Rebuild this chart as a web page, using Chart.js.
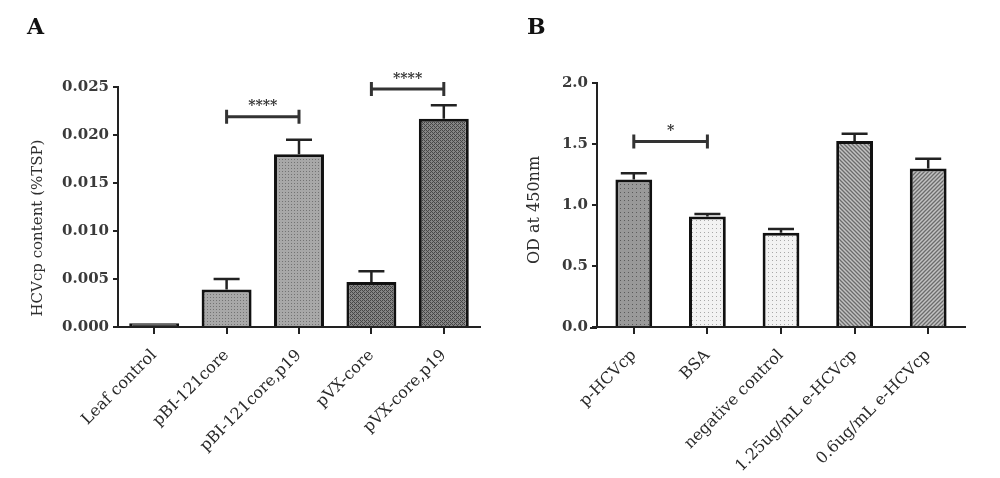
<!DOCTYPE html>
<html>
<head>
<meta charset="utf-8">
<script src="https://cdn.jsdelivr.net/npm/chart.js@4.4.0/dist/chart.umd.min.js"></script>
<style>
html, body { margin: 0; padding: 0; background: #fff; }
#wrap { position: relative; width: 1000px; height: 478px; }
.panel { position: absolute; top: 0; width: 500px; height: 478px; }
</style>
</head>
<body>
<div id="wrap">
  <div class="panel" style="left:0"><canvas id="chartA" width="500" height="478"></canvas></div>
  <div class="panel" style="left:500px"><canvas id="chartB" width="500" height="478"></canvas></div>
</div>
<script>
// panel A
const labelsA = ['Leaf control', 'pBI-121core', 'pBI-121core,p19', 'pVX-core', 'pVX-core,p19'];
const valuesA = [0.0004, 0.0039, 0.0180, 0.0047, 0.0217];
const errorsA = [0, 0.0011, 0.0015, 0.0011, 0.0014];
const ticksA = [0, 0.005, 0.010, 0.015, 0.020, 0.025];
const sigA = [[1, 2, 0.0219, '****'], [3, 4, 0.0248, '****']];

// panel B
const labelsB = ['p-HCVcp', 'BSA', 'negative control', '1.25ug/mL e-HCVcp', '0.6ug/mL e-HCVcp'];
const valuesB = [1.21, 0.906, 0.773, 1.524, 1.30];
const errorsB = [0.05, 0.02, 0.03, 0.06, 0.08];
const ticksB = [0, 0.5, 1.0, 1.5, 2.0];
const sigB = [[0, 1, 1.52, '*']];

const SERIF = '"DejaVu Serif", "Liberation Serif", serif';
const INK = '#222';

function pattern(bg, draw, size) {
    const c = document.createElement('canvas');
    c.width = size; c.height = size;
    const g = c.getContext('2d');
    g.fillStyle = bg;
    g.fillRect(0, 0, size, size);
    draw(g);
    return c.getContext('2d').createPattern(c, 'repeat');
}
const dots = (col, s) => g => { g.fillStyle = col; g.fillRect(0, 0, s, s); };
const hatch = (col, dir) => g => {
    g.strokeStyle = col; g.lineWidth = 1.3;
    g.beginPath();
    if (dir > 0) { g.moveTo(-1, 5); g.lineTo(5, -1); g.moveTo(-1, 1); g.lineTo(1, -1); g.moveTo(3, 5); g.lineTo(5, 3); }
    else { g.moveTo(-1, -1); g.lineTo(5, 5); g.moveTo(3, -1); g.lineTo(5, 1); g.moveTo(-1, 3); g.lineTo(1, 5); }
    g.stroke();
};
const cross = (col) => g => {
    g.fillStyle = col;
    g.fillRect(0, 0, 1, 1); g.fillRect(2, 2, 1, 1); g.fillRect(1, 1, 1, 1); g.fillRect(3, 3, 1, 1);
    g.fillRect(2, 0, 1, 1); g.fillRect(0, 2, 1, 1);
};

const fillsA = [
    '#484848',
    pattern('#a8a8a8', dots('#737373', 1), 3),
    pattern('#a8a8a8', dots('#737373', 1), 3),
    pattern('#858585', cross('#464646'), 4),
    pattern('#858585', cross('#464646'), 4)
];
const fillsB = [
    pattern('#999999', dots('#5a5a5a', 1), 4),
    pattern('#f2f2f2', dots('#a8a8a8', 1), 4),
    pattern('#f2f2f2', dots('#a8a8a8', 1), 4),
    pattern('#c2c2c2', hatch('#6c6c6c', -1), 4),
    pattern('#c2c2c2', hatch('#6c6c6c', 1), 4)
];

const decor = {
    id: 'decor',
    afterDatasetsDraw(chart, args, opts) {
        const ctx = chart.ctx;
        const xs = chart.scales.x, ys = chart.scales.y;
        const meta = chart.getDatasetMeta(0);
        ctx.save();
        ctx.strokeStyle = INK;
        ctx.lineWidth = 2.5;
        // upper error bars
        meta.data.forEach((bar, i) => {
            const e = opts.errors[i];
            if (!e) return;
            const yt = ys.getPixelForValue(opts.values[i] + e);
            ctx.beginPath();
            ctx.moveTo(bar.x, bar.y);
            ctx.lineTo(bar.x, yt);
            ctx.moveTo(bar.x - 13, yt);
            ctx.lineTo(bar.x + 13, yt);
            ctx.stroke();
        });
        // significance brackets
        ctx.lineWidth = 3;
        ctx.strokeStyle = '#333';
        opts.sig.forEach(([a, b, lvl, txt]) => {
            const x1 = xs.getPixelForValue(a), x2 = xs.getPixelForValue(b);
            const y = ys.getPixelForValue(lvl);
            ctx.beginPath();
            ctx.moveTo(x1, y); ctx.lineTo(x2, y);
            ctx.moveTo(x1, y - 7); ctx.lineTo(x1, y + 7);
            ctx.moveTo(x2, y - 7); ctx.lineTo(x2, y + 7);
            ctx.stroke();
            ctx.fillStyle = '#333';
            ctx.font = 'bold 14px ' + SERIF;
            ctx.textAlign = 'center';
            ctx.textBaseline = 'middle';
            ctx.fillText(txt, (x1 + x2) / 2, y - 10);
        });
        // x axis line runs a little past the y axis, as in the source figure
        ctx.lineWidth = 2;
        ctx.strokeStyle = INK;
        ctx.beginPath();
        ctx.moveTo(chart.chartArea.left - opts.axisOver, ys.bottom + 1);
        ctx.lineTo(chart.chartArea.left, ys.bottom + 1);
        ctx.stroke();
        // panel letter and axis title
        ctx.fillStyle = '#111';
        ctx.font = 'bold 22px ' + SERIF;
        ctx.textAlign = 'left';
        ctx.textBaseline = 'alphabetic';
        ctx.fillText(opts.letter, 27, 34);
        ctx.fillStyle = '#2e2e2e';
        ctx.font = opts.titleFont + ' ' + SERIF;
        ctx.translate(opts.titleX, opts.titleY);
        ctx.rotate(-Math.PI / 2);
        ctx.textAlign = 'center';
        ctx.textBaseline = 'middle';
        ctx.fillText(opts.title, 0, 0);
        ctx.restore();
    }
};

function makeChart(id, labels, values, fills, tickVals, digits, cfg) {
    return new Chart(document.getElementById(id), {
        type: 'bar',
        data: {
            labels: labels,
            datasets: [{
                data: values,
                backgroundColor: fills,
                borderColor: '#111',
                borderWidth: 3,
                barPercentage: cfg.barPct,
                categoryPercentage: 1
            }]
        },
        options: {
            responsive: false,
            animation: false,
            devicePixelRatio: 1,
            layout: { padding: { top: cfg.top, right: cfg.right, left: 0, bottom: 0 } },
            plugins: {
                legend: { display: false },
                tooltip: { enabled: false },
                decor: cfg.decor
            },
            scales: {
                x: {
                    offset: true,
                    grid: { display: true, offset: false, drawOnChartArea: false, drawTicks: true, tickLength: 7, color: INK, lineWidth: 2 },
                    border: { display: true, color: INK, width: 2 },
                    ticks: {
                        autoSkip: false, maxRotation: 45, minRotation: 45, padding: 12,
                        color: '#2a2a2a', font: { family: SERIF, size: 16 }
                    },
                    afterFit: s => { s.height = 478 - cfg.bottom; }
                },
                y: {
                    min: 0,
                    max: tickVals[tickVals.length - 1],
                    grid: { display: true, drawOnChartArea: false, drawTicks: true, tickLength: 5, color: INK, lineWidth: 2 },
                    border: { display: true, color: INK, width: 2 },
                    afterBuildTicks: s => { s.ticks = tickVals.map(v => ({ value: v })); },
                    ticks: {
                        padding: 4, color: '#3a3a3a',
                        font: { family: SERIF, size: 15, weight: 'bold' },
                        callback: v => Number(v).toFixed(digits)
                    },
                    afterFit: s => { s.width = cfg.left; }
                }
            }
        },
        plugins: [decor]
    });
}

makeChart('chartA', labelsA, valuesA, fillsA, ticksA, 3, {
    barPct: 0.69, top: 87, right: 20, left: 118, bottom: 327,
    decor: { values: valuesA, errors: errorsA, sig: sigA, letter: 'A', title: 'HCVcp content (%TSP)', titleFont: '15px', titleX: 38, titleY: 228, axisOver: 0 }
});
makeChart('chartB', labelsB, valuesB, fillsB, ticksB, 1, {
    barPct: 0.5, top: 83, right: 35, left: 97, bottom: 327,
    decor: { values: valuesB, errors: errorsB, sig: sigB, letter: 'B', title: 'OD at 450nm', titleFont: '16px', titleX: 35, titleY: 210, axisOver: 7 }
});
</script>
</body>
</html>
